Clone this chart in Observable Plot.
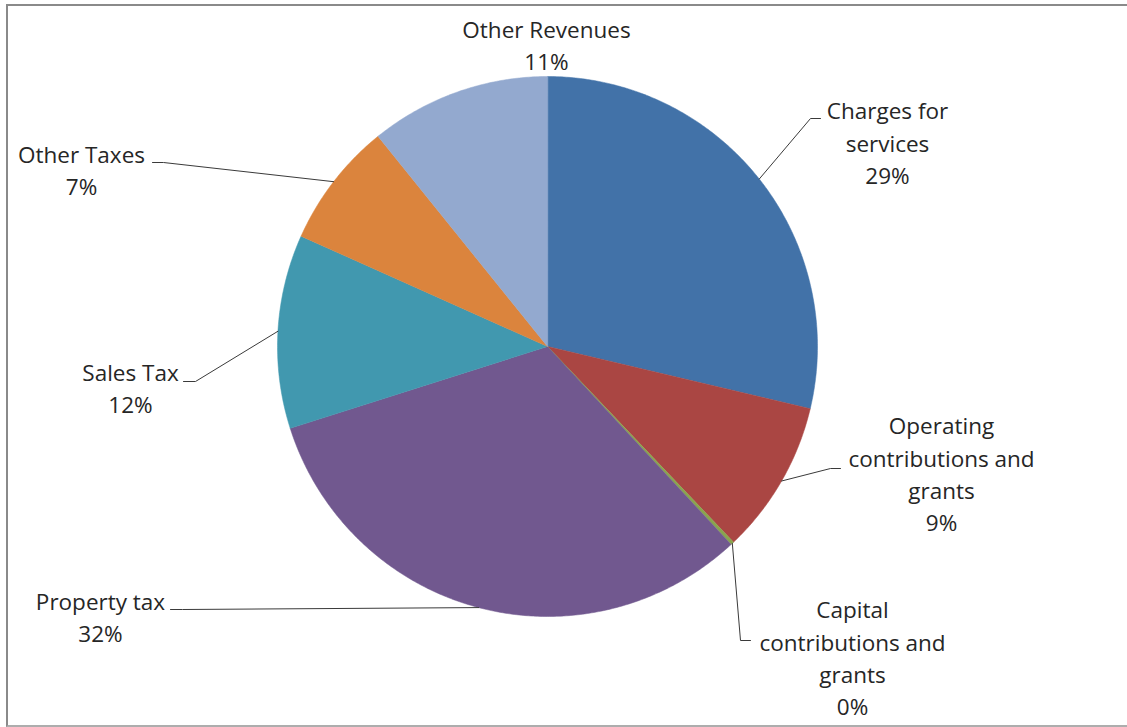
<!DOCTYPE html>
<html>
<head>
<meta charset="utf-8">
<script src="https://cdn.jsdelivr.net/npm/d3@7"></script>
<script src="https://cdn.jsdelivr.net/npm/@observablehq/plot@0.6"></script>
<style>
  html, body { margin: 0; padding: 0; background: #fff; }
  #wrap { position: relative; width: 1127px; height: 727px; overflow: hidden; }
  #frame { position: absolute; left: 6px; top: 4px; width: 1200px; height: 719px;
           border-left: 2px solid #8a8a8a; border-top: 2px solid #8a8a8a; border-bottom: 2px solid #adadad; }
  #chart { position: absolute; left: 0; top: 0; }
</style>
</head>
<body>
<div id="wrap"><div id="frame"></div><div id="chart"></div></div>
<script>
// ---- data ----
const categories = ["Charges for services", "Operating contributions and grants", "Capital contributions and grants", "Property tax", "Sales Tax", "Other Taxes", "Other Revenues"];
const values = [28.7, 9.2, 0.2, 32.0, 11.6, 7.5, 10.8];
const pctLabels = ["29%", "9%", "0%", "32%", "12%", "7%", "11%"];
const labelNames = ["Charges for\nservices", "Operating\ncontributions and\ngrants", "Capital\ncontributions and\ngrants", "Property tax", "Sales Tax", "Other Taxes", "Other Revenues"];

// ---- style / layout ----
const colors = ["#4272a8", "#aa4643", "#89a54e", "#71588f", "#4198af", "#db843d", "#93a9cf"];
const W = 1127, H = 727;
const cx = 547, cy = 346, R = 270;
// label block centres and leader elbows (layout)
const labelPos = [[887, 144], [941, 475], [852, 659], [100, 618], [130, 389], [81, 171], [546, 46]];
const leaderPath = [
  [[810, 118], [820, 118]],
  [[830, 468], [840, 468]],
  [[740, 640], [750, 640]],
  [[182, 609], [170, 609]],
  [[195, 381], [183, 381]],
  [[163, 162], [152, 162]],
  null
];

const total = d3.sum(values);
let acc = 0;
const slices = categories.map((name, i) => {
  const a0 = acc / total * 2 * Math.PI;
  acc += values[i];
  const a1 = acc / total * 2 * Math.PI;
  return {name, i, a0, a1, mid: (a0 + a1) / 2};
});
const pt = (a, r) => [cx + r * Math.sin(a), cy - r * Math.cos(a)];

const slicePts = [];
for (const s of slices) {
  slicePts.push({name: s.name, x: cx, y: cy});
  const n = Math.max(2, Math.ceil((s.a1 - s.a0) / (Math.PI / 360)));
  for (let k = 0; k <= n; k++) {
    const [x, y] = pt(s.a0 + (s.a1 - s.a0) * k / n, R);
    slicePts.push({name: s.name, x, y});
  }
}

const leaderPts = [];
slices.forEach((s, i) => {
  if (!leaderPath[i]) return;
  const [x0, y0] = pt(s.mid, R);
  leaderPts.push({name: s.name, x: x0, y: y0});
  for (const [x, y] of leaderPath[i]) leaderPts.push({name: s.name, x, y});
});

const labels = slices.map((s, i) => ({name: s.name, x: labelPos[i][0], y: labelPos[i][1], text: labelNames[i] + "\n" + pctLabels[i]}));

const chart = Plot.plot({
  width: W, height: H,
  margin: 0,
  x: {domain: [0, W], range: [0, W], axis: null},
  y: {domain: [0, H], range: [0, H], axis: null},
  color: {domain: categories, range: colors},
  style: {background: "transparent"},
  marks: [
    Plot.line(slicePts, {x: "x", y: "y", z: "name", fill: "name", stroke: "name", strokeWidth: 0.5, curve: "linear-closed"}),
    Plot.line(leaderPts, {x: "x", y: "y", z: "name", stroke: "#3a3a3a", strokeWidth: 1}),
    Plot.text(labels, {x: "x", y: "y", dy: -3, text: "text", fontSize: 22.5, lineHeight: 1.44, fill: "#262626", fontFamily: "Open Sans"})
  ]
});
document.getElementById("chart").appendChild(chart);
</script>
</body>
</html>
